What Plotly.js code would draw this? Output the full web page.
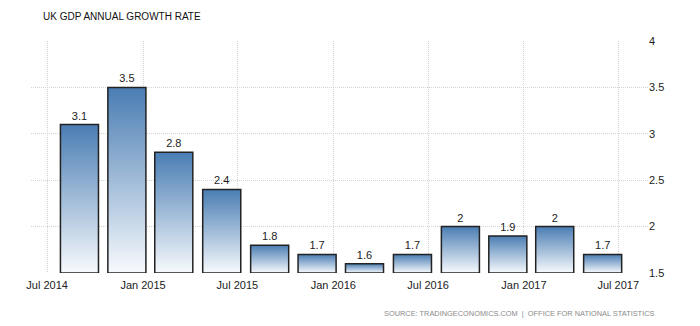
<!DOCTYPE html>
<html>
<head>
<meta charset="utf-8">
<script src="https://cdn.plot.ly/plotly-3.0.1.min.js"></script>
<style>html,body{margin:0;padding:0;background:#fff;}#chart{width:700px;height:326px;}</style>
</head>
<body>
<div id="chart"></div>
<script>
const quarters = ['2014-09-01','2014-12-01','2015-03-01','2015-06-01','2015-09-01','2015-12-01','2016-03-01','2016-06-01','2016-09-01','2016-12-01','2017-03-01','2017-06-01'];
const growth = [3.1, 3.5, 2.8, 2.4, 1.8, 1.7, 1.6, 1.7, 2, 1.9, 2, 1.7];
const labels = ['3.1','3.5','2.8','2.4','1.8','1.7','1.6','1.7','2','1.9','2','1.7'];
const yTicks = [1.5, 2, 2.5, 3, 3.5, 4];
const yTickText = ['1.5','2','2.5','3','3.5','4'];
const axisFloor = 1.5;

const DAY = 86400000;
const FONT = 'Liberation Sans, sans-serif';

const trace = {
  type: 'bar',
  x: quarters,
  // bars start at the axis floor; heights reach each growth value
  y: growth.map(function(v){ return v - axisFloor; }),
  base: axisFloor,
  width: 73 * DAY,
  text: labels,
  textposition: 'outside',
  cliponaxis: false,
  textfont: {family: FONT, size: 11, color: '#222'},
  marker: {color: '#7a9fc8', line: {color: '#222', width: 1.5}},
  hoverinfo: 'none'
};

const layout = {
  width: 700, height: 326,
  margin: {l: 31, r: 52, t: 41, b: 53},
  paper_bgcolor: '#fff', plot_bgcolor: '#fff',
  showlegend: false,
  title: {text: 'UK GDP ANNUAL GROWTH RATE', x: 43/700, xref: 'container', xanchor: 'left',
          y: 1 - 16/326, yref: 'container', yanchor: 'middle',
          font: {family: FONT, size: 10, color: '#111'}},
  xaxis: {
    type: 'date',
    range: ['2014-05-31', '2017-08-27'],
    tick0: '2014-07-01', dtick: 'M6', tickformat: '%b %Y',
    showgrid: true, gridcolor: '#d4d4d4', griddash: '1px,1px', gridwidth: 1,
    zeroline: false, showline: false, ticks: '', ticklabelstandoff: 4,
    tickfont: {family: FONT, size: 11, color: '#222'}
  },
  yaxis: {
    side: 'right',
    range: [1.5, 4],
    tickvals: yTicks, ticktext: yTickText,
    showgrid: true, gridcolor: '#d4d4d4', griddash: '1px,1px', gridwidth: 1,
    zeroline: false, showline: false, ticks: '',
    tickfont: {family: FONT, size: 11, color: '#222'}
  },
  annotations: [{
    text: 'SOURCE: TRADINGECONOMICS.COM  |  OFFICE FOR NATIONAL STATISTICS',
    xref: 'paper', yref: 'paper', x: (657-31)/617, y: (273-313)/232,
    xanchor: 'right', yanchor: 'middle', showarrow: false,
    font: {family: FONT, size: 7.4, color: '#8a8a8a'}
  }]
};

Plotly.newPlot('chart', [trace], layout, {staticPlot: true, displayModeBar: false}).then(function(gd){
  const svg = gd.querySelector('svg.main-svg');
  const ns = 'http://www.w3.org/2000/svg';
  let defs = svg.querySelector('defs');
  if (!defs) { defs = document.createElementNS(ns, 'defs'); svg.insertBefore(defs, svg.firstChild); }
  const grad = document.createElementNS(ns, 'linearGradient');
  grad.setAttribute('id', 'barGrad');
  grad.setAttribute('x1', '0'); grad.setAttribute('y1', '0');
  grad.setAttribute('x2', '0'); grad.setAttribute('y2', '1');
  [['0', '#4a7db3'], ['1', '#f7fafd']].forEach(function(s){
    const st = document.createElementNS(ns, 'stop');
    st.setAttribute('offset', s[0]); st.setAttribute('stop-color', s[1]);
    grad.appendChild(st);
  });
  defs.appendChild(grad);
  gd.querySelectorAll('.barlayer .point path').forEach(function(p){
    p.style.fill = 'url(#barGrad)';
  });
});
</script>
</body>
</html>
